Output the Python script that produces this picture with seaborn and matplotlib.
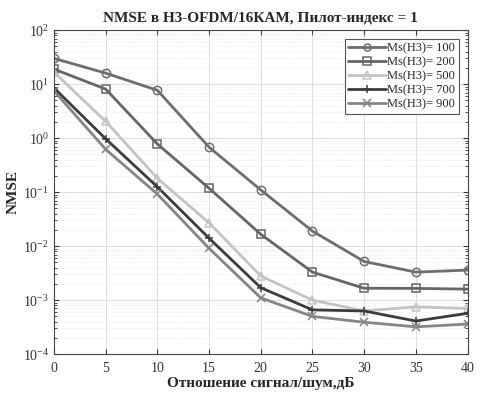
import numpy as np
import pandas as pd
import matplotlib
matplotlib.use("Agg")
import matplotlib.pyplot as plt
import matplotlib.ticker as mticker
import seaborn as sns

snr = [0, 5, 10, 15, 20, 25, 30, 35, 40]
nmse_100 = [30, 16, 7.7, 0.68, 0.11, 0.019, 0.0052, 0.0033, 0.0036]
nmse_200 = [19, 8.1, 0.78, 0.118, 0.0166, 0.0033, 0.00166, 0.00165, 0.0016]
nmse_500 = [16.6, 2.05, 0.18, 0.027, 0.0028, 0.001, 0.00063, 0.00075, 0.0007]
nmse_700 = [8.5, 0.97, 0.125, 0.014, 0.0017, 0.00066, 0.00063, 0.00041, 0.00057]
nmse_900 = [7.5, 0.62, 0.092, 0.0091, 0.0011, 0.0005, 0.00039, 0.00032, 0.00036]
labels = ["Ms(H3)= 100", "Ms(H3)= 200", "Ms(H3)= 500", "Ms(H3)= 700", "Ms(H3)= 900"]

sns.set_style("ticks")
plt.rcParams["font.family"] = ["Liberation Serif", "DejaVu Serif"]
plt.rcParams["mathtext.fontset"] = "custom"
plt.rcParams["mathtext.rm"] = "Liberation Serif"

fig = plt.figure(figsize=(4.8, 3.97), dpi=100)
ax = fig.add_axes([0.1125, 0.108, 0.8615, 0.816])

series = [nmse_100, nmse_200, nmse_500, nmse_700, nmse_900]
colors = ["#6e6e6e", "#666666", "#c4c4c4", "#3c3c3c", "#858585"]
markers = ["o", "s", "^", "+", "x"]
for vals, lab, c, m in zip(series, labels, colors, markers):
    df = pd.DataFrame({"snr": snr, "nmse": vals})
    sns.lineplot(data=df, x="snr", y="nmse", ax=ax, color=c, lw=2.0,
                 marker=m, markersize=6, markerfacecolor="none",
                 markeredgecolor=c, markeredgewidth=1.1, label=lab)

ax.set_yscale("log")
ax.set_xlim(0, 40)
ax.set_ylim(1e-4, 1e2)
ax.set_xticks(range(0, 41, 5))
ax.set_yticks([1e-4, 1e-3, 1e-2, 1e-1, 1e0, 1e1, 1e2])
ax.yaxis.set_minor_locator(mticker.LogLocator(base=10, subs=np.arange(2, 10)))
ax.yaxis.set_minor_formatter(mticker.NullFormatter())
ax.set_ylim(1e-4, 1e2)
ax.grid(True, which="major", color="#d8d8d8", lw=0.6)
ax.grid(True, which="minor", color="#e4e4e4", lw=0.5, ls=":")
ax.tick_params(which="both", direction="in", top=True, right=True, labelsize=10, colors="#333333")
ax.tick_params(axis="x", pad=6)
for s in ax.spines.values():
    s.set_color("#444444")
    s.set_linewidth(0.8)

ax.set_title("NMSE в Н3-OFDM/16КАМ, Пилот-индекс = 1", fontsize=11, fontweight="bold", pad=6)
ax.set_xlabel("Отношение сигнал/шум,дБ", fontsize=11, fontweight="bold", labelpad=1)
ax.set_ylabel("NMSE", fontsize=11, fontweight="bold", labelpad=2)

leg = ax.legend(loc="upper right", fontsize=9, frameon=True, fancybox=False, framealpha=1,
                edgecolor="#555555", handlelength=3.0, borderpad=0.3, labelspacing=0.15,
                handletextpad=0.1, borderaxespad=0.7, markerscale=0.85)
leg.get_frame().set_linewidth(0.8)

fig.savefig("out.png", dpi=100)
